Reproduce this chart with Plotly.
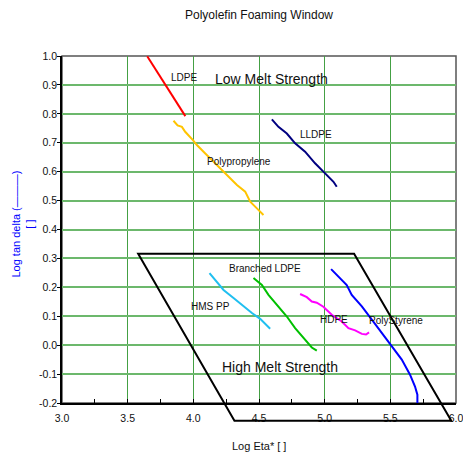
import plotly.graph_objects as go

# ---- data ----
ldpe_x = [3.649, 3.749, 3.847, 3.939]
ldpe_y = [0.999, 0.926, 0.857, 0.792]

pp_x = [3.849, 3.880, 3.913, 3.938, 3.997, 4.027, 4.091, 4.179, 4.255, 4.332, 4.395, 4.433, 4.484, 4.534]
pp_y = [0.776, 0.760, 0.755, 0.738, 0.709, 0.692, 0.663, 0.623, 0.588, 0.554, 0.531, 0.496, 0.473, 0.450]

lldpe_x = [4.598, 4.648, 4.712, 4.775, 4.851, 4.927, 4.990, 5.041, 5.067, 5.092]
lldpe_y = [0.781, 0.755, 0.732, 0.698, 0.669, 0.629, 0.600, 0.577, 0.565, 0.548]

hmspp_x = [4.123, 4.179, 4.230, 4.306, 4.382, 4.446, 4.509, 4.585]
hmspp_y = [0.249, 0.220, 0.191, 0.163, 0.134, 0.111, 0.091, 0.057]

bldpe_x = [4.458, 4.522, 4.572, 4.636, 4.712, 4.775, 4.838, 4.902, 4.940]
bldpe_y = [0.232, 0.208, 0.174, 0.139, 0.099, 0.059, 0.024, -0.008, -0.019]

hdpe_x = [4.813, 4.864, 4.902, 4.940, 4.990, 5.054, 5.130, 5.181, 5.232, 5.283, 5.315, 5.338]
hdpe_y = [0.177, 0.166, 0.151, 0.147, 0.133, 0.105, 0.082, 0.059, 0.051, 0.039, 0.037, 0.044]

ps_x = [5.049, 5.105, 5.168, 5.206, 5.283, 5.359, 5.447, 5.511, 5.587, 5.650, 5.688, 5.706, 5.706]
ps_y = [0.263, 0.237, 0.208, 0.174, 0.134, 0.088, 0.036, -0.005, -0.050, -0.102, -0.143, -0.171, -0.205]

# foaming window (parallelogram), log eta / log tan delta
window_x = [3.58, 5.224, 5.964, 4.313]
window_y = [0.316, 0.316, -0.261, -0.261]

x_range = [3.0, 6.0]
y_range = [-0.2, 1.0]
x_tick_vals = [3.0, 3.5, 4.0, 4.5, 5.0, 5.5, 6.0]
x_tick_text = ["3.0", "3.5", "4.0", "4.5", "5.0", "5.5", "6.0"]
y_tick_vals = [-0.2, -0.1, 0.0, 0.1, 0.2, 0.3, 0.4, 0.5, 0.6, 0.7, 0.8, 0.9, 1.0]
y_tick_text = ["-0.2", "-0.1", "0.0", "0.1", "0.2", "0.3", "0.4", "0.5", "0.6", "0.7", "0.8", "0.9", "1.0"]

labels = ["LDPE", "Low Melt Strength", "Polypropylene", "LLDPE", "Branched LDPE",
          "HMS PP", "HDPE", "PolyStyrene", "High Melt Strength"]
label_x = [3.927, 4.595, 4.349, 4.935, 4.547, 4.128, 5.074, 5.544, 4.659]
label_y = [0.925, 0.922, 0.634, 0.729, 0.264, 0.133, 0.088, 0.085, -0.074]
label_size = [10, 14, 10, 10, 10, 10, 10, 10, 14]

FONT = "Arial, Liberation Sans, sans-serif"

series = [
    (ldpe_x, ldpe_y, "#ff0000", "LDPE"),
    (pp_x, pp_y, "#ffc400", "Polypropylene"),
    (lldpe_x, lldpe_y, "#000080", "LLDPE"),
    (hmspp_x, hmspp_y, "#20bff0", "HMS PP"),
    (bldpe_x, bldpe_y, "#00c000", "Branched LDPE"),
    (hdpe_x, hdpe_y, "#ff00ff", "HDPE"),
    (ps_x, ps_y, "#0000ff", "PolyStyrene"),
]

fig = go.Figure()
for xs, ys, col, name in series:
    fig.add_trace(go.Scatter(x=xs, y=ys, mode="lines", name=name,
                             line=dict(color=col, width=2), showlegend=False,
                             hoverinfo="skip"))

# window drawn through the x scale and the y domain (so it can go below the axis)
y0, y1 = y_range
def ydom(v):
    return (v - y0) / (y1 - y0)
path = "M " + " L ".join(f"{x},{ydom(y)}" for x, y in zip(window_x, window_y)) + " Z"

shapes = [
    dict(type="rect", xref="x domain", yref="y domain", x0=0, x1=1, y0=0, y1=1,
         line=dict(color="#555555", width=1.5), layer="below"),
    dict(type="path", xref="x", yref="y domain", path=path,
         line=dict(color="black", width=2), layer="above"),
]

annotations = []
for t, x, y, s in zip(labels, label_x, label_y, label_size):
    annotations.append(dict(text=t, x=x, y=y, xref="x", yref="y", showarrow=False,
                            font=dict(family=FONT, size=s, color="#111111"),
                            xanchor="center", yanchor="middle"))
annotations.append(dict(text="Log Eta* [ ]", x=0.5, y=-0.125, xref="paper", yref="paper",
                        showarrow=False, xanchor="center", yanchor="middle",
                        font=dict(family=FONT, size=11, color="#111111")))
annotations.append(dict(text="Log tan delta (———)<br>[ ]", x=-0.1, y=0.516,
                        xref="paper", yref="paper", showarrow=False, textangle=-90,
                        xanchor="center", yanchor="middle",
                        font=dict(family=FONT, size=11, color="#0000ff")))

fig.update_layout(
    width=463, height=455,
    margin=dict(l=62, r=7, t=56, b=52, autoexpand=False),
    paper_bgcolor="white", plot_bgcolor="white",
    title=dict(text="Polyolefin Foaming Window", x=0.5, xref="paper",
               y=1 - 15 / 455, yanchor="middle",
               font=dict(family=FONT, size=12, color="#111111")),
    shapes=shapes,
    annotations=annotations,
    xaxis=dict(range=x_range, tickvals=x_tick_vals, ticktext=x_tick_text,
               automargin=False,
               showgrid=True, gridcolor="#44a044", gridwidth=1,
               zeroline=False, showline=True, linecolor="black", linewidth=1.5,
               ticks="inside", ticklen=4, tickcolor="black",
               minor=dict(dtick=0.25, ticks="inside", ticklen=4, tickcolor="black", showgrid=False),
               ticklabelstandoff=5, ticklabeloverflow="allow",
               tickfont=dict(family=FONT, size=10.5, color="#111111")),
    yaxis=dict(range=y_range, tickvals=y_tick_vals, ticktext=y_tick_text,
               automargin=False,
               showgrid=True, gridcolor="#6cb86c", gridwidth=1.6,
               zeroline=False, showline=True, linecolor="black", linewidth=1.5,
               ticks="outside", ticklen=3, tickcolor="black",
               ticklabelstandoff=-2, ticklabeloverflow="allow",
               tickfont=dict(family=FONT, size=10.5, color="#111111")),
)

fig.write_html("out.html", config={"displayModeBar": False},
               post_script="document.body.style.margin='0';")
